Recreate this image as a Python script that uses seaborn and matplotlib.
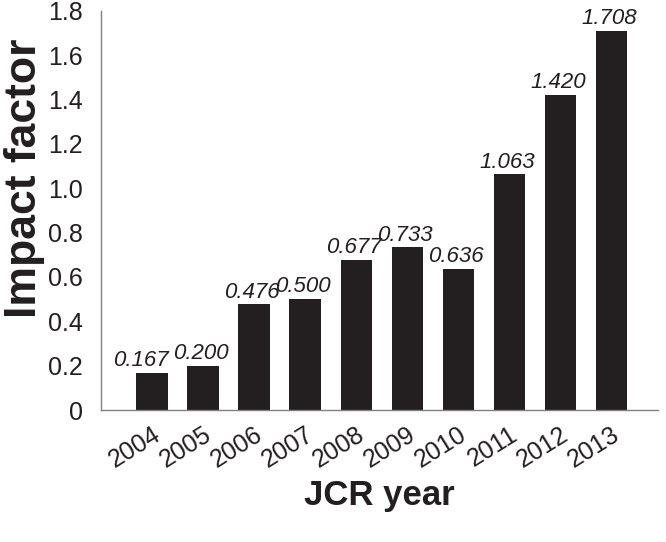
import matplotlib
matplotlib.use("Agg")
import matplotlib.pyplot as plt
import seaborn as sns
import pandas as pd

years = ["2004", "2005", "2006", "2007", "2008", "2009", "2010", "2011", "2012", "2013"]
impact = [0.167, 0.200, 0.476, 0.500, 0.677, 0.733, 0.636, 1.063, 1.420, 1.708]
value_labels = ["0.167", "0.200", "0.476", "0.500", "0.677", "0.733", "0.636", "1.063", "1.420", "1.708"]
yticks = [0, 0.2, 0.4, 0.6, 0.8, 1.0, 1.2, 1.4, 1.6, 1.8]
ytick_labels = ["0", "0.2", "0.4", "0.6", "0.8", "1.0", "1.2", "1.4", "1.6", "1.8"]

sns.set_style("white")
plt.rcParams["font.family"] = ["Liberation Sans", "DejaVu Sans"]

df = pd.DataFrame({"year": years, "impact": impact})

fig = plt.figure(figsize=(6.66, 5.42), dpi=100)
ax = fig.add_axes([0.1517, 0.2435, 0.8363, 0.7365])
sns.barplot(data=df, x="year", y="impact", color="#231f20", width=0.61,
            saturation=1, edgecolor="none", ax=ax)

for i, (v, s) in enumerate(zip(impact, value_labels)):
    dx = -0.22 if i == 0 else -0.04
    ax.text(i + dx, v + 0.008, s, ha="center", va="bottom", fontsize=16,
            style="italic", color="#231f20")

ax.set_xlim(-1.0, 9.92)
ax.set_ylim(0, 1.8)
ax.set_yticks(yticks)
ax.set_yticklabels(ytick_labels)
for sp in ["top", "right"]:
    ax.spines[sp].set_visible(False)
for sp in ["left", "bottom"]:
    ax.spines[sp].set_color("#808080")
    ax.spines[sp].set_linewidth(1.0)
ax.tick_params(axis="both", direction="out", length=5, width=1, color="#808080",
               labelsize=18, labelcolor="#231f20")
ax.tick_params(axis="y", pad=8)
ax.tick_params(axis="x", pad=4)
plt.setp(ax.get_xticklabels(), rotation=32, ha="right", va="top", rotation_mode="anchor")

ax.set_xlabel("JCR year", fontsize=25, fontweight="bold", color="#231f20")
ax.set_ylabel("Impact factor", fontsize=32, fontweight="bold", color="#231f20")
ax.xaxis.set_label_coords(0.5, -0.213)
ax.xaxis.label.set_va("center")
ax.yaxis.set_label_coords(-0.138, 0.581)
ax.yaxis.label.set_va("center")

fig.savefig("out.png", dpi=100)
